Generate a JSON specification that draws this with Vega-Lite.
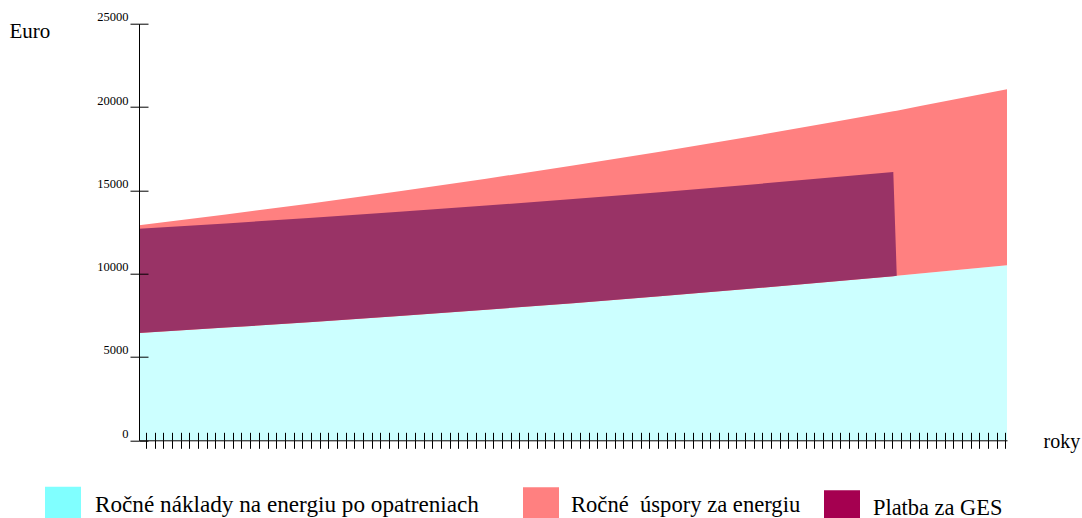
{
  "$schema": "https://vega.github.io/schema/vega-lite/v6.json",
  "width": 868,
  "height": 416.6,
  "autosize": "none",
  "padding": {"left": 139, "top": 23.7, "right": 75, "bottom": 77.7},
  "background": "white",
  "config": {
    "view": {"stroke": null},
    "font": "Liberation Serif"
  },
  "datasets": {
    "main": [
      {"year": 0, "cost": 6440, "top": 12905, "ptop": 12690},
      {"year": 10, "cost": 6763, "top": 13552, "ptop": 13013},
      {"year": 20, "cost": 7103, "top": 14232, "ptop": 13353},
      {"year": 30, "cost": 7460, "top": 14947, "ptop": 13710},
      {"year": 40, "cost": 7834, "top": 15697, "ptop": 14084},
      {"year": 50, "cost": 8228, "top": 16485, "ptop": 14478},
      {"year": 60, "cost": 8641, "top": 17313, "ptop": 14891},
      {"year": 70, "cost": 9075, "top": 18182, "ptop": 15325},
      {"year": 80, "cost": 9530, "top": 19095, "ptop": 15780},
      {"year": 86.9, "cost": 9851, "top": 19741, "ptop": 16106},
      {"year": 87.3, "cost": 9870, "top": 19780, "ptop": 9870},
      {"year": 90, "cost": 10009, "top": 20054, "ptop": null},
      {"year": 100, "cost": 10504, "top": 21068, "ptop": null}
    ]
  },
  "resolve": {
    "axis": {"x": "independent", "y": "independent"},
    "scale": {"color": "independent"}
  },
  "layer": [
    {
      "data": {"name": "main"},
      "mark": {"type": "area", "fill": "#CCFFFF", "stroke": null},
      "encoding": {
        "x": {
          "field": "year", "type": "quantitative",
          "scale": {"domain": [0, 100], "nice": false, "zero": false},
          "axis": {
            "orient": "bottom", "zindex": 1, "labels": false, "grid": false,
            "domainColor": "#000", "domainWidth": 1, "tickColor": "#000", "tickSize": 8, "tickWidth": 1,
            "tickOffset": -1.7,
            "values": [1,2,3,4,5,6,7,8,9,10,11,12,13,14,15,16,17,18,19,20,21,22,23,24,25,26,27,28,29,30,31,32,33,34,35,36,37,38,39,40,41,42,43,44,45,46,47,48,49,50,51,52,53,54,55,56,57,58,59,60,61,62,63,64,65,66,67,68,69,70,71,72,73,74,75,76,77,78,79,80,81,82,83,84,85,86,87,88,89,90,91,92,93,94,95,96,97,98,99,100],
            "title": "roky", "titleFont": "Liberation Serif", "titleFontSize": 20, "titleFontWeight": "normal",
            "titleColor": "#000", "titleAlign": "left", "titleBaseline": "alphabetic", "titleX": 904, "titleY": 6.7
          }
        },
        "y": {
          "field": "cost", "type": "quantitative",
          "scale": {"domain": [0, 25000], "nice": false},
          "axis": {
            "orient": "left", "zindex": 1, "grid": false, "format": "d",
            "values": [0, 5000, 10000, 15000, 20000, 25000],
            "domainColor": "#000", "domainWidth": 1, "tickColor": "#000", "tickSize": 9, "tickWidth": 1,
            "labelFont": "Liberation Serif", "labelFontSize": 12.5, "labelColor": "#000",
            "labelBaseline": "alphabetic", "labelOffset": -3, "labelPadding": 2,
            "title": "Euro", "titleFont": "Liberation Serif", "titleFontSize": 21, "titleFontWeight": "normal",
            "titleColor": "#000", "titleAngle": 0, "titleAlign": "left", "titleBaseline": "alphabetic",
            "titleX": -130, "titleY": 13.6
          }
        },
        "y2": {"datum": 0}
      }
    },
    {
      "data": {"name": "main"},
      "mark": {"type": "area", "fill": "#FF8080", "stroke": null},
      "encoding": {
        "x": {
          "field": "year", "type": "quantitative",
          "scale": {"domain": [0, 100], "nice": false, "zero": false},
          "axis": {
            "orient": "bottom", "offset": -8, "zindex": 1, "labels": false, "grid": false, "domain": false,
            "tickColor": "#000", "tickSize": 8, "tickWidth": 1, "tickOffset": -1.7,
            "values": [1,2,3,4,5,6,7,8,9,10,11,12,13,14,15,16,17,18,19,20,21,22,23,24,25,26,27,28,29,30,31,32,33,34,35,36,37,38,39,40,41,42,43,44,45,46,47,48,49,50,51,52,53,54,55,56,57,58,59,60,61,62,63,64,65,66,67,68,69,70,71,72,73,74,75,76,77,78,79,80,81,82,83,84,85,86,87,88,89,90,91,92,93,94,95,96,97,98,99,100],
            "title": null
          }
        },
        "y": {
          "field": "top", "type": "quantitative",
          "scale": {"domain": [0, 25000], "nice": false},
          "axis": {
            "orient": "left", "offset": -9, "zindex": 1, "labels": false, "grid": false, "domain": false,
            "values": [0, 5000, 10000, 15000, 20000, 25000],
            "tickColor": "#000", "tickSize": 9, "tickWidth": 1, "title": null
          }
        },
        "y2": {"field": "cost"}
      }
    },
    {
      "data": {"name": "main"},
      "mark": {"type": "area", "fill": "#993366", "stroke": null},
      "encoding": {
        "x": {"field": "year", "type": "quantitative", "scale": {"domain": [0, 100], "nice": false, "zero": false}, "axis": null},
        "y": {"field": "ptop", "type": "quantitative", "scale": {"domain": [0, 25000], "nice": false}, "axis": null},
        "y2": {"field": "cost"}
      }
    },
    {
      "data": {"values": [{"series": "Ročné náklady na energiu po opatreniach"}]},
      "mark": {"type": "square", "opacity": 0},
      "encoding": {
        "color": {
          "field": "series", "type": "nominal",
          "scale": {"range": ["#80FFFF"]},
          "legend": {
            "orient": "none", "legendX": -94, "legendY": 463, "title": null, "padding": 0,
            "symbolType": "square", "symbolSize": 1296, "symbolStrokeWidth": 0,
            "labelFont": "Liberation Serif", "labelFontSize": 23.2, "labelColor": "#000", "labelOffset": 14, "labelLimit": 0,
            "encode": {"symbols": {"update": {"opacity": {"value": 1}, "strokeWidth": {"value": 0}}}}
          }
        }
      }
    },
    {
      "data": {"values": [{"series": "Ročné\u00a0 úspory za energiu"}]},
      "mark": {"type": "square", "opacity": 0},
      "encoding": {
        "color": {
          "field": "series", "type": "nominal",
          "scale": {"range": ["#FF8080"]},
          "legend": {
            "orient": "none", "legendX": 384, "legendY": 463.5, "title": null, "padding": 0,
            "symbolType": "square", "symbolSize": 1296, "symbolStrokeWidth": 0,
            "labelFont": "Liberation Serif", "labelFontSize": 22.6, "labelColor": "#000", "labelOffset": 12, "labelLimit": 0,
            "encode": {"symbols": {"update": {"opacity": {"value": 1}, "strokeWidth": {"value": 0}}}}
          }
        }
      }
    },
    {
      "data": {"values": [{"series": "Platba za GES"}]},
      "mark": {"type": "square", "opacity": 0},
      "encoding": {
        "color": {
          "field": "series", "type": "nominal",
          "scale": {"range": ["#A50050"]},
          "legend": {
            "orient": "none", "legendX": 685, "legendY": 466.5, "title": null, "padding": 0,
            "symbolType": "square", "symbolSize": 1296, "symbolStrokeWidth": 0,
            "labelFont": "Liberation Serif", "labelFontSize": 22.4, "labelColor": "#000", "labelOffset": 13, "labelLimit": 0,
            "encode": {"symbols": {"update": {"opacity": {"value": 1}, "strokeWidth": {"value": 0}}}}
          }
        }
      }
    }
  ]
}
